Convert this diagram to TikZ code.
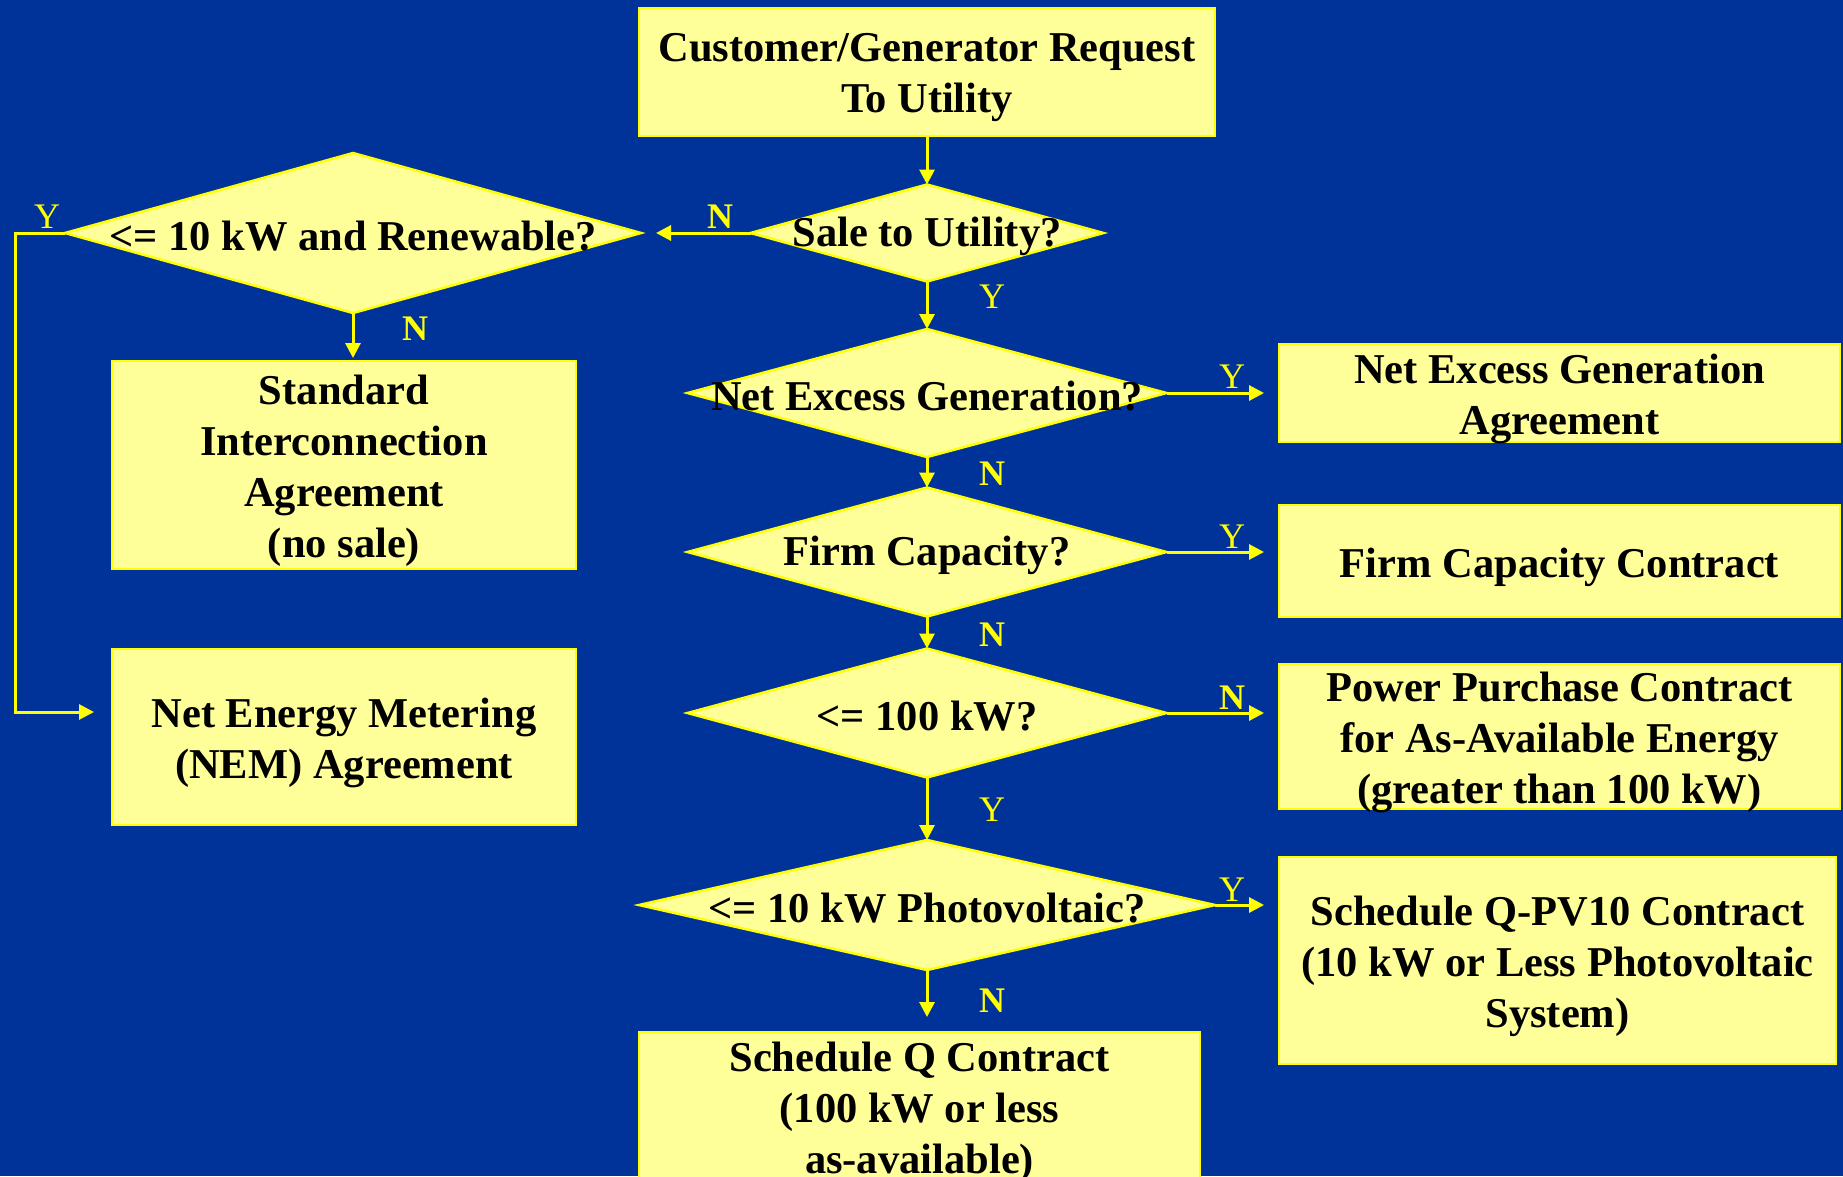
\documentclass[tikz,border=0pt]{standalone}
\usepackage{fontspec}
\setmainfont{Liberation Serif}
\usetikzlibrary{shapes.geometric,arrows.meta}

\definecolor{bgblue}{RGB}{0,51,153}
\definecolor{boxfill}{RGB}{255,255,153}
\definecolor{edgeyellow}{RGB}{255,255,0}

\tikzset{
  box/.style={draw=edgeyellow, fill=boxfill, line width=2.5pt, inner sep=0pt,
    outer sep=0pt},
  btext/.style={inner sep=0pt, align=center, text=black, yshift=-6pt,
    font=\fontsize{42.5}{51}\selectfont\bfseries},
  decision/.style={shape=diamond, draw=edgeyellow, fill=boxfill, line width=2.5pt,
    inner sep=0pt, outer sep=0pt},
  dtext/.style={inner sep=0pt, text=black, yshift=-3pt,
    font=\fontsize{42.5}{51}\selectfont\bfseries},
  flow/.style={draw=edgeyellow, line width=3pt,
    -{Triangle[length=15pt,width=15pt]}},
  ylab/.style={inner sep=0pt, text=edgeyellow, font=\fontsize{36}{36}\selectfont},
  nlab/.style={inner sep=0pt, text=edgeyellow, font=\fontsize{36}{36}\selectfont\bfseries},
}

\begin{document}
\begin{tikzpicture}[x=1pt, y=-1pt]
  \useasboundingbox (0,0) rectangle (1843,1176);
  \fill[bgblue] (0,0) rectangle (1843,1176);

  % request box
  \node[box, minimum width=576pt, minimum height=128pt] (req) at (927,72) {};
  \node[btext] (reqtxt) at (req) {Customer/Generator Request\\To Utility};

  % decision diamonds of the main column
  \node[decision, minimum width=353pt, minimum height=97pt] (sale) at (927,233) {};
  \node[dtext] (saletxt) at (sale) {Sale to Utility?};

  \node[decision, minimum width=479pt, minimum height=128pt] (neg) at (927,393) {};
  \node[dtext] (negtxt) at (neg) {Net Excess Generation?};

  \node[decision, minimum width=479pt, minimum height=129pt] (firm) at (927,552) {};
  \node[dtext] (firmtxt) at (firm) {Firm Capacity?};

  \node[decision, minimum width=479pt, minimum height=129pt] (hundred) at (927,713) {};
  \node[dtext] (hundredtxt) at (hundred) {<= 100 kW?};

  \node[decision, minimum width=576pt, minimum height=130pt] (pv) at (927,905) {};
  \node[dtext] (pvtxt) at (pv) {<= 10 kW Photovoltaic?};

  % left branch
  \node[decision, minimum width=576pt, minimum height=160pt] (renew) at (353,233) {};
  \node[dtext] (renewtxt) at (renew) {<= 10 kW and Renewable?};

  \node[box, minimum width=464pt, minimum height=208pt] (sia) at (344,465) {};
  \node[btext] (siatxt) at (sia) {Standard\\Interconnection\\Agreement\\(no sale)};
  \node[box, minimum width=464pt, minimum height=176pt] (nem) at (344,737) {};
  \node[btext] (nemtxt) at (nem) {Net Energy Metering\\(NEM) Agreement};

  % outcome boxes on the right
  \node[box, minimum width=561pt, minimum height=98pt] (nega) at (1559.5,393) {};
  \node[btext] (negatxt) at (nega) {Net Excess Generation\\Agreement};
  \node[box, minimum width=561pt, minimum height=112pt] (fcc) at (1559.5,561) {};
  \node[btext] (fcctxt) at (fcc) {Firm Capacity Contract};
  \node[box, minimum width=561pt, minimum height=145pt] (ppc) at (1559.5,736.5) {};
  \node[btext] (ppctxt) at (ppc)
    {Power Purchase Contract\\for As-Available Energy\\(greater than 100 kW)};
  \node[box, minimum width=557pt, minimum height=207pt] (qpv) at (1557.5,960.5) {};
  \node[btext] (qpvtxt) at (qpv)
    {Schedule Q-PV10 Contract\\(10 kW or Less Photovoltaic\\System)};
  \node[box, minimum width=561pt, minimum height=148pt] (sq) at (919.5,1106) {};
  \node[btext] (sqtxt) at (sq) {Schedule Q Contract\\(100 kW or less\\as-available)};

  % connectors
  \draw[flow] (req) -- (sale.north);
  \draw[flow, shorten >=15pt] (sale.west) -- (renew.east);
  \draw[flow] (sale.south) -- (neg.north);
  \draw[flow] (neg.south) -- (firm.north);
  \draw[flow] (firm.south) -- (hundred.north);
  \draw[flow] (hundred.south) -- (pv.north);
  \draw[flow, shorten >=15pt] (pv.south) -- (pv.south |- sq.north);

  \draw[flow, shorten >=15pt] (neg.east) -- (neg.east -| nega.west);
  \draw[flow, shorten >=15pt] (firm.east) -- (firm.east -| fcc.west);
  \draw[flow, shorten >=15pt] (hundred.east) -- (hundred.east -| ppc.west);
  \draw[flow, shorten >=15pt] (pv.east) -- (pv.east -| qpv.west);

  \draw[flow, shorten >=3pt] (renew.south) -- (renew.south |- sia.north);
  \coordinate (ybend) at (15,233);
  \coordinate (nemin) at ([yshift=25pt]nem.west);
  \draw[flow, shorten >=18pt] (renew.west) -- (ybend) |- (nemin);

  % branch labels
  \node[ylab] (lyrenew) at (47,217) {Y};
  \node[nlab] (lnrenew) at (415,329) {N};
  \node[nlab] (lnsale) at (720,217) {N};
  \node[ylab] (lysale) at (992,297) {Y};
  \node[ylab] (lyneg) at (1232,377) {Y};
  \node[nlab] (lnneg) at (992,474) {N};
  \node[ylab] (lyfirm) at (1232,537) {Y};
  \node[nlab] (lnfirm) at (992,635) {N};
  \node[nlab] (lnhundred) at (1232,698) {N};
  \node[ylab] (lyhundred) at (992,810) {Y};
  \node[ylab] (lypv) at (1232,890) {Y};
  \node[nlab] (lnpv) at (992,1001) {N};
\end{tikzpicture}
\end{document}
